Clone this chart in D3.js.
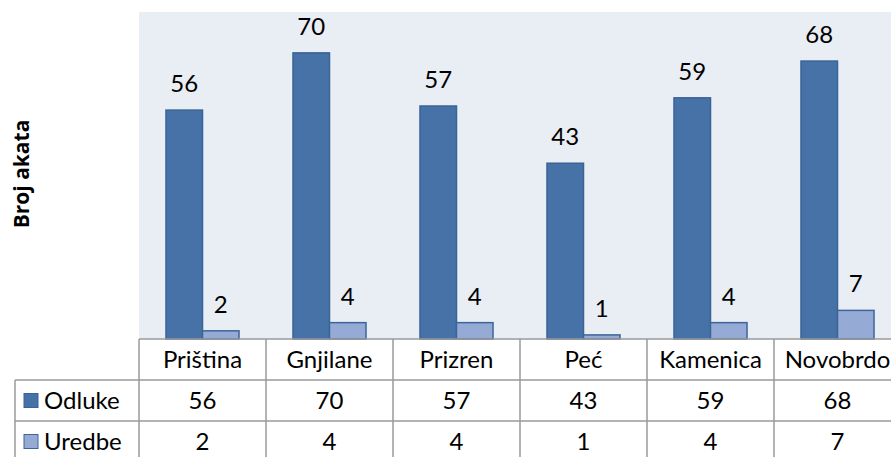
<!DOCTYPE html>
<html>
<head>
<meta charset="utf-8">
<script src="https://cdn.jsdelivr.net/npm/d3@7"></script>
<style>
  body { margin: 0; background: #fff; }
  svg { display: block; font-family: Lato, "Open Sans", sans-serif; }
</style>
</head>
<body>
<svg id="chart" width="891" height="457"></svg>
<script>
// data
const cities = [ "Priština", "Gnjilane", "Prizren", "Peć", "Kamenica", "Novobrdo" ];
const seriesNames = [ "Odluke", "Uredbe" ];
const odluke = [ 56, 70, 57, 43, 59, 68 ];
const uredbe = [ 2, 4, 4, 1, 4, 7 ];
const yLabel = "Broj akata";

const colors = { "Odluke" : "#4672a7", "Uredbe" : "#95aad4" };
const strokes = { "Odluke" : "#3a6396", "Uredbe" : "#3c6599" };

const svg = d3.select( "#chart" );

const plotLeft = 139, plotRight = 901, plotTop = 12, plotBottom = 339;
const rowH = 41;
const legendLeft = 15;
const gridColor = "#9a9a9a";
const fontSize = "24px";

const rows = seriesNames.map( ( s, i ) => ( { name : s, values : i === 0 ? odluke : uredbe } ) );

const x0 = d3.scaleBand()
  .domain( cities )
  .range( [ plotLeft, plotRight ] )
  .paddingInner( 0.425 )
  .paddingOuter( 0.2125 );

const x1 = d3.scaleBand()
  .domain( seriesNames )
  .range( [ 0, x0.bandwidth() ] );

const xCell = d3.scaleBand()
  .domain( cities )
  .range( [ plotLeft, plotRight ] );

const y = d3.scaleLinear()
  .domain( [ 0, 80 ] )
  .range( [ plotBottom, plotTop ] );

// plot background
svg.append( "rect" )
  .attr( "x", plotLeft )
  .attr( "y", plotTop )
  .attr( "width", plotRight - plotLeft )
  .attr( "height", plotBottom - plotTop )
  .attr( "fill", "#e9edf4" );

// bars
const groups = svg.selectAll( "g.city" )
  .data( cities )
  .enter().append( "g" )
    .attr( "class", "city" )
    .attr( "transform", d => "translate(" + x0( d ) + ",0)" );

groups.selectAll( "rect" )
  .data( ( d, i ) => rows.map( r => ( { key : r.name, value : r.values[ i ] } ) ) )
  .enter().append( "rect" )
    .attr( "x", d => x1( d.key ) )
    .attr( "y", d => y( d.value ) )
    .attr( "width", x1.bandwidth() )
    .attr( "height", d => y( 0 ) - y( d.value ) )
    .attr( "fill", d => colors[ d.key ] )
    .attr( "stroke", d => strokes[ d.key ] )
    .attr( "stroke-width", 1.5 );

groups.selectAll( "text" )
  .data( ( d, i ) => rows.map( r => ( { key : r.name, value : r.values[ i ] } ) ) )
  .enter().append( "text" )
    .attr( "x", d => x1( d.key ) + x1.bandwidth() / 2 )
    .attr( "y", d => y( d.value ) - 18 )
    .attr( "text-anchor", "middle" )
    .style( "font-size", fontSize )
    .attr( "fill", "#000" )
    .text( d => d.value );

// data table
const table = svg.append( "g" ).attr( "class", "table" );

// horizontal lines
table.append( "line" )
  .attr( "x1", plotLeft ).attr( "x2", plotRight )
  .attr( "y1", plotBottom ).attr( "y2", plotBottom );
[ 1, 2 ].forEach( k => {
  table.append( "line" )
    .attr( "x1", legendLeft ).attr( "x2", plotRight )
    .attr( "y1", plotBottom + k * rowH ).attr( "y2", plotBottom + k * rowH );
} );

// vertical lines
table.append( "line" )
  .attr( "x1", legendLeft ).attr( "x2", legendLeft )
  .attr( "y1", plotBottom + rowH ).attr( "y2", 470 );
cities.forEach( c => {
  table.append( "line" )
    .attr( "x1", xCell( c ) ).attr( "x2", xCell( c ) )
    .attr( "y1", plotBottom ).attr( "y2", 470 );
} );
table.append( "line" )
  .attr( "x1", plotRight ).attr( "x2", plotRight )
  .attr( "y1", plotBottom ).attr( "y2", 470 );

table.selectAll( "line" )
  .attr( "stroke", gridColor )
  .attr( "stroke-width", 1.5 );

// header
table.selectAll( "text.head" )
  .data( cities )
  .enter().append( "text" )
    .attr( "class", "head" )
    .attr( "x", d => xCell( d ) + xCell.bandwidth() / 2 )
    .attr( "y", plotBottom + rowH / 2 + 8 )
    .attr( "text-anchor", "middle" )
    .style( "font-size", fontSize )
    .text( d => d );

// rows
rows.forEach( ( r, ri ) => {
  const rowY = plotBottom + ( ri + 1 ) * rowH;

  table.append( "rect" )
    .attr( "x", 24 )
    .attr( "y", rowY + rowH / 2 - 7 )
    .attr( "width", 14 )
    .attr( "height", 14 )
    .attr( "fill", colors[ r.name ] )
    .attr( "stroke", strokes[ r.name ] )
    .attr( "stroke-width", 1 );

  table.append( "text" )
    .attr( "x", 44 )
    .attr( "y", rowY + rowH / 2 + 8 )
    .style( "font-size", fontSize )
    .text( r.name );

  table.selectAll( "text.v" + ri )
    .data( r.values )
    .enter().append( "text" )
      .attr( "class", "v" + ri )
      .attr( "x", ( d, i ) => xCell( cities[ i ] ) + xCell.bandwidth() / 2 )
      .attr( "y", rowY + rowH / 2 + 8 )
      .attr( "text-anchor", "middle" )
      .style( "font-size", fontSize )
      .text( d => d );
} );

// y axis title
svg.append( "text" )
  .attr( "transform", "translate(29,174) rotate(-90)" )
  .attr( "text-anchor", "middle" )
  .style( "font-family", "'Open Sans', sans-serif" )
  .style( "font-size", "21px" )
  .style( "font-weight", "bold" )
  .text( yLabel );
</script>
</body>
</html>
